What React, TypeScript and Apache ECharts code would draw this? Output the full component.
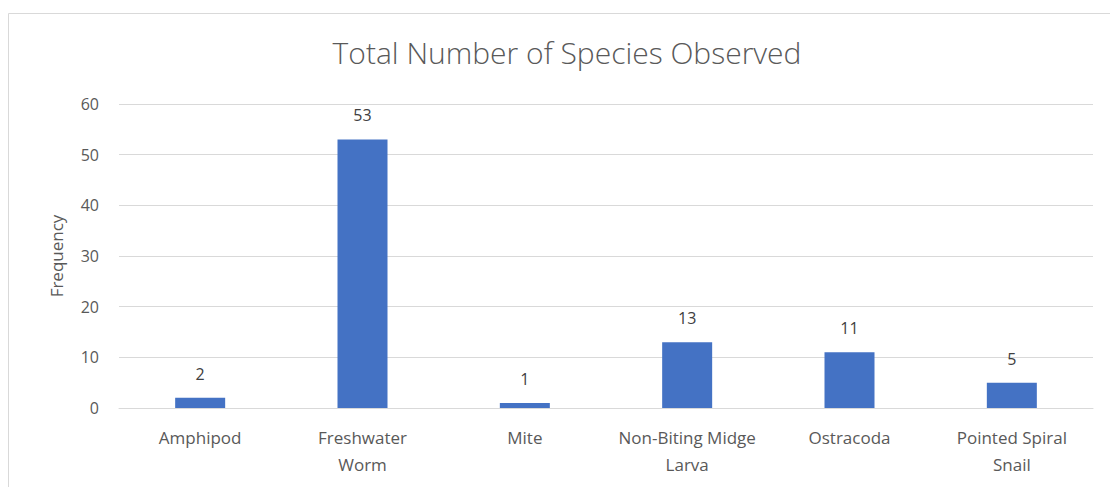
import React, { useEffect, useRef } from "react";
import * as echarts from "echarts";

const categories = [
  "Amphipod",
  "Freshwater\nWorm",
  "Mite",
  "Non-Biting Midge\nLarva",
  "Ostracoda",
  "Pointed Spiral\nSnail",
];
const values = [2, 53, 1, 13, 11, 5];
const titleText = "Total Number of Species Observed";
const yAxisName = "Frequency";

export default function App() {
  const ref = useRef<HTMLDivElement>(null);
  useEffect(() => {
    if (!ref.current) return;
    const chart = echarts.init(ref.current, undefined, { renderer: "svg" });
    const font = "'Open Sans', 'Noto Sans', sans-serif";
    chart.setOption({
      animation: false,
      backgroundColor: "#ffffff",
      title: {
        text: titleText,
        left: 562,
        textAlign: "center",
        top: 32,
        textStyle: {
          color: "#595959",
          fontSize: 30,
          fontWeight: 300,
          fontFamily: font,
        },
      },
      graphic: [
        {
          type: "rect",
          shape: { x: 8.5, y: 13.5, width: 1200, height: 600 },
          style: { fill: "none", stroke: "#d9d9d9", lineWidth: 1 },
          silent: true,
        },
      ],
      grid: { left: 119, right: 17, top: 104, bottom: 79 },
      xAxis: {
        type: "category",
        data: categories,
        axisTick: { show: false },
        axisLine: { lineStyle: { color: "#d9d9d9" } },
        axisLabel: {
          color: "#595959",
          fontSize: 17,
          fontFamily: font,
          margin: 16,
          lineHeight: 27,
          interval: 0,
        },
      },
      yAxis: {
        type: "value",
        min: 0,
        max: 60,
        interval: 10,
        name: yAxisName,
        nameLocation: "middle",
        nameGap: 54,
        nameTextStyle: { color: "#595959", fontSize: 17, fontFamily: font },
        axisLine: { show: false },
        axisTick: { show: false },
        axisLabel: { color: "#595959", fontSize: 16, fontFamily: font, margin: 20 },
        splitLine: { lineStyle: { color: "#d9d9d9" } },
      },
      series: [
        {
          type: "bar",
          data: values,
          barWidth: 50,
          itemStyle: { color: "#4472c4" },
          label: {
            show: true,
            position: "top",
            distance: 16,
            color: "#404040",
            fontSize: 16,
            fontFamily: font,
          },
        },
      ],
    });
    return () => chart.dispose();
  }, []);
  return (
    <div
      ref={ref}
      style={{ position: "absolute", left: 0, top: 0, width: 1110, height: 487 }}
    />
  );
}
